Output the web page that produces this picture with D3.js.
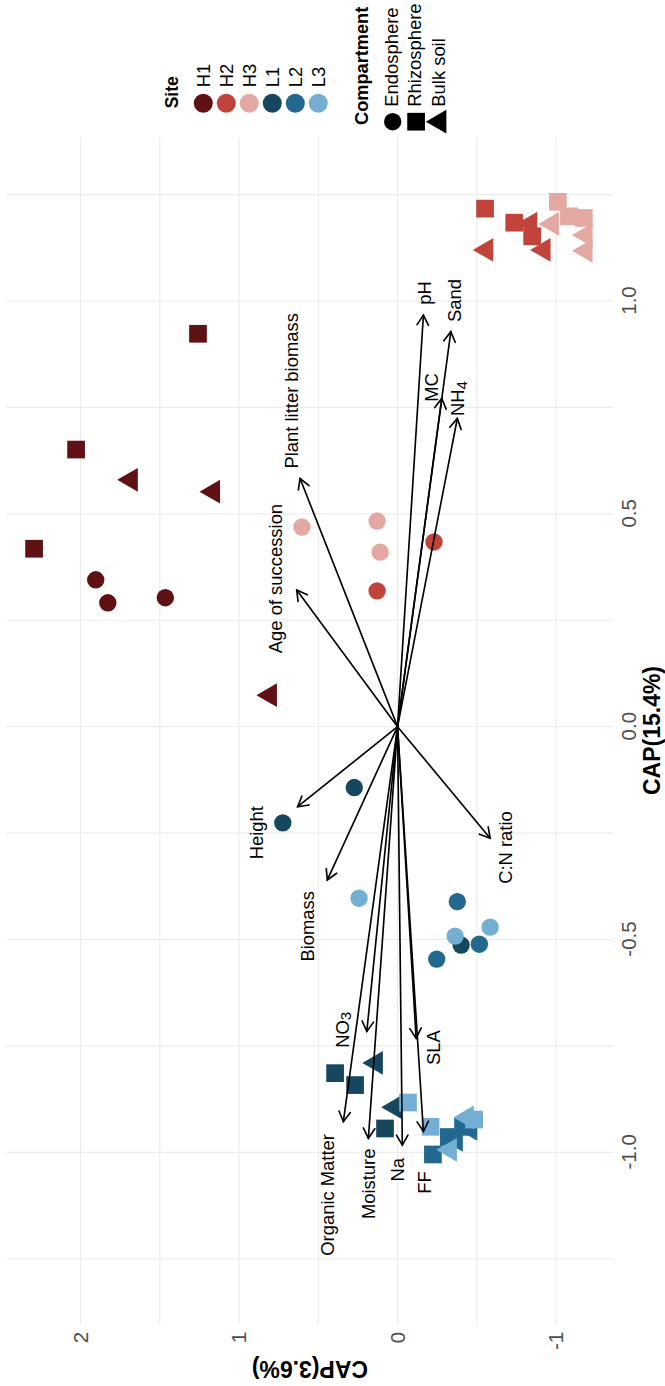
<!DOCTYPE html>
<html>
<head>
<meta charset="utf-8">
<script src="https://cdn.jsdelivr.net/npm/d3@7"></script>
<style>
  body { margin: 0; background: #fff; }
  text { font-family: "Liberation Sans", Arial, Helvetica, sans-serif; }
</style>
</head>
<body>
<svg id="chart" width="665" height="1386"></svg>
<script>
// ---- data -------------------------------------------------------------
const sites = ["H1", "H2", "H3", "L1", "L2", "L3"];
const siteColors = ["#5f1114", "#c0443a", "#e3a8a2", "#16475f", "#22688f", "#74afd3"];
const compartments = ["Endosphere", "Rhizosphere", "Bulk soil"];

// sample scores on the two constrained axes
const sampleSite = [
  "H1","H1","H1","H1","H1","H1","H1","H1","H1",
  "H2","H2","H2","H2","H2","H2","H2","H2",
  "H3","H3","H3","H3","H3","H3","H3","H3","H3",
  "L1","L1","L1","L1","L1","L1","L1","L1",
  "L2","L2","L2","L2","L2","L2","L2","L2",
  "L3","L3","L3","L3","L3","L3","L3","L3"
];
const sampleCompartment = [
  "Endosphere","Endosphere","Endosphere","Rhizosphere","Rhizosphere","Rhizosphere","Bulk soil","Bulk soil","Bulk soil",
  "Endosphere","Endosphere","Rhizosphere","Rhizosphere","Rhizosphere","Bulk soil","Bulk soil","Bulk soil",
  "Endosphere","Endosphere","Endosphere","Rhizosphere","Rhizosphere","Rhizosphere","Bulk soil","Bulk soil","Bulk soil",
  "Endosphere","Endosphere","Endosphere","Rhizosphere","Rhizosphere","Rhizosphere","Bulk soil","Bulk soil",
  "Endosphere","Endosphere","Endosphere","Rhizosphere","Rhizosphere","Rhizosphere","Bulk soil","Bulk soil",
  "Endosphere","Endosphere","Endosphere","Rhizosphere","Rhizosphere","Rhizosphere","Bulk soil","Bulk soil"
];
const sampleCAP1 = [
  0.345, 0.291, 0.303, 0.923, 0.651, 0.418, 0.580, 0.552, 0.074,
  0.434, 0.319, 1.217, 1.184, 1.152, 1.182, 1.120, 1.120,
  0.469, 0.483, 0.410, 1.233, 1.199, 1.195, 1.181, 1.155, 1.118,
  -0.143, -0.226, -0.513, -0.814, -0.842, -0.944, -0.790, -0.894,
  -0.411, -0.511, -0.546, -1.005, -0.964, -0.940, -0.945, -0.971,
  -0.403, -0.492, -0.471, -0.883, -0.940, -0.923, -0.918, -0.994
];
const sampleCAP2 = [
  1.904, 1.828, 1.465, 1.259, 2.028, 2.293, 1.682, 1.163, 0.804,
  -0.230, 0.129, -0.552, -0.736, -0.849, -0.839, -0.561, -0.922,
  0.603, 0.129, 0.110, -1.011, -1.081, -1.175, -0.975, -1.187, -1.187,
  0.273, 0.724, -0.401, 0.394, 0.268, 0.079, 0.136, 0.017,
  -0.377, -0.516, -0.247, -0.223, -0.323, -0.413, -0.460, -0.369,
  0.243, -0.363, -0.584, -0.066, -0.208, -0.483, -0.438, -0.331
];

// environmental vectors (arrow tips) and their label anchors
const envNames = ["pH", "Sand", "MC", "NH4", "Plant litter biomass", "Age of succession",
  "Height", "Biomass", "C:N ratio", "NO3", "SLA", "Organic Matter", "Moisture", "Na", "FF"];
const envCAP1 = [0.967, 0.928, 0.771, 0.724, 0.583, 0.321, -0.188, -0.360, -0.262,
  -0.716, -0.732, -0.928, -0.967, -0.983, -0.951];
const envCAP2 = [-0.163, -0.336, -0.279, -0.377, 0.615, 0.636, 0.630, 0.443, -0.584,
  0.194, -0.117, 0.342, 0.184, -0.030, -0.163];
const labelCAP1 = [1.019, 1.001, 0.797, 0.771, 0.789, 0.348, -0.249, -0.469, -0.284,
  -0.712, -0.754, -1.100, -1.074, -1.041, -1.071];
const labelCAP2 = [-0.167, -0.356, -0.211, -0.379, 0.672, 0.770, 0.891, 0.566, -0.681,
  0.347, -0.224, 0.442, 0.186, 0.003, -0.170];

// axis ticks
const xTicks = [-1, -0.5, 0, 0.5, 1];
const xTickLabels = ["-1.0", "-0.5", "0.0", "0.5", "1.0"];
const xMinor = [-1.25, -0.75, -0.25, 0.25, 0.75, 1.25];
const yTicks = [-1, 0, 1, 2];
const yTickLabels = ["-1", "0", "1", "2"];
const yMinor = [-0.5, 0.5, 1.5];

// ---- layout (drawn landscape, then turned a quarter turn) -------------
const W = 1386, H = 665;
const panel = { left: 61.7, right: 1249.3, top: 6.5, bottom: 613.3 };

const x = d3.scaleLinear().domain([-1.404, 1.386]).range([panel.left, panel.right]);
const y = d3.scaleLinear().domain([-1.361, 2.467]).range([panel.bottom, panel.top]);
const color = d3.scaleOrdinal().domain(sites).range(siteColors);

const svg = d3.select("#chart");
const g = svg.append("g").attr("transform", `translate(0,${W}) rotate(-90)`);

// grid
const gridColor = "#ebebeb";
const grid = g.append("g");
grid.selectAll("line.vx").data(xMinor.concat(xTicks)).join("line")
  .attr("x1", d => x(d)).attr("x2", d => x(d))
  .attr("y1", panel.top).attr("y2", panel.bottom)
  .attr("stroke", gridColor).attr("stroke-width", 1.1);
grid.selectAll("line.hy").data(yMinor.concat(yTicks)).join("line")
  .attr("x1", panel.left).attr("x2", panel.right)
  .attr("y1", d => y(d)).attr("y2", d => y(d))
  .attr("stroke", gridColor).attr("stroke-width", 1.1);

// axes
const xAxis = d3.axisBottom(x).tickValues(xTicks).tickFormat((d, i) => xTickLabels[i]).tickSize(0).tickPadding(8);
const gx = g.append("g").attr("transform", `translate(0,${panel.bottom})`).call(xAxis);
const yAxis = d3.axisLeft(y).tickValues(yTicks).tickFormat((d, i) => yTickLabels[i]).tickSize(0).tickPadding(7.5);
const gy = g.append("g").attr("transform", `translate(${panel.left},0)`).call(yAxis);
[gx, gy].forEach(a => {
  a.select(".domain").remove();
  a.selectAll("text").attr("fill", "#4d4d4d").style("font-size", "20.5px")
    .style("font-family", "'Liberation Sans', Arial, sans-serif");
});

g.append("text")
  .attr("x", (panel.left + panel.right) / 2).attr("y", 659.5)
  .attr("text-anchor", "middle").style("font-weight", "bold").style("font-size", "23px")
  .text("CAP(15.4%)");
g.append("text")
  .attr("transform", `translate(25.5,${(panel.top + panel.bottom) / 2}) rotate(-90)`)
  .attr("text-anchor", "middle").style("font-weight", "bold").style("font-size", "23px")
  .text("CAP(3.6%)");

// marks
const R_CIRCLE = 8.7, SQ = 17.7, R_TRI = 13.7;
function shapePath(comp) {
  if (comp === "Endosphere") {
    const p = d3.path();
    p.arc(0, 0, R_CIRCLE, 0, 2 * Math.PI);
    return p.toString();
  }
  if (comp === "Rhizosphere") {
    const h = SQ / 2;
    return `M${-h},${-h}H${h}V${h}H${-h}Z`;
  }
  const hw = R_TRI * Math.sqrt(3) / 2;
  return `M0,${-R_TRI}L${hw},${R_TRI / 2}L${-hw},${R_TRI / 2}Z`;
}

const samples = sampleSite.map((s, i) => ({
  site: s, comp: sampleCompartment[i], c1: sampleCAP1[i], c2: sampleCAP2[i]
}));
g.append("g").selectAll("path").data(samples).join("path")
  .attr("transform", d => `translate(${x(d.c1)},${y(d.c2)})`)
  .attr("d", d => shapePath(d.comp))
  .attr("fill", d => color(d.site));

// biplot arrows
const arrows = g.append("g").attr("stroke", "#000").attr("stroke-width", 1.65)
  .attr("fill", "none").attr("stroke-linecap", "round");
const x0 = x(0), y0 = y(0), head = 11.5, spread = Math.PI / 6;
envNames.forEach((name, i) => {
  const tx = x(envCAP1[i]), ty = y(envCAP2[i]);
  const ang = Math.atan2(ty - y0, tx - x0);
  arrows.append("line").attr("x1", x0).attr("y1", y0).attr("x2", tx).attr("y2", ty);
  const a1 = ang + Math.PI - spread, a2 = ang + Math.PI + spread;
  arrows.append("path").attr("stroke-linejoin", "miter")
    .attr("d", `M${tx + head * Math.cos(a1)},${ty + head * Math.sin(a1)}L${tx},${ty}L${tx + head * Math.cos(a2)},${ty + head * Math.sin(a2)}`);
});

// arrow labels; trailing digit of the ion names set as a subscript
const labels = g.append("g");
envNames.forEach((name, i) => {
  const t = labels.append("text")
    .attr("x", x(labelCAP1[i])).attr("y", y(labelCAP2[i]))
    .attr("dy", "0.36em").attr("text-anchor", "middle")
    .style("font-size", "18.4px").attr("fill", "#000");
  const m = name.match(/^(NH|NO)(\d)$/);
  if (m) {
    t.append("tspan").text(m[1]);
    t.append("tspan").attr("dy", "0.15em").style("font-size", "15px").text(m[2]);
  } else {
    t.text(name);
  }
});

// legends
const lg = g.append("g");
lg.append("text").attr("x", 1277.7).attr("y", 177.5)
  .style("font-weight", "bold").style("font-size", "17.5px").text("Site");
sites.forEach((s, i) => {
  const cy = 203.3 + i * 23;
  lg.append("circle").attr("cx", 1282.7).attr("cy", cy).attr("r", 9.5).attr("fill", siteColors[i]);
  lg.append("text").attr("x", 1298.7).attr("y", cy).attr("dy", "0.36em")
    .style("font-size", "18.4px").text(s);
});
lg.append("text").attr("x", 1261).attr("y", 368)
  .style("font-weight", "bold").style("font-size", "18.2px").text("Compartment");
compartments.forEach((c, i) => {
  const cy = 392.7 + i * 23.4;
  lg.append("path").attr("transform", `translate(1264.3,${cy})`)
    .attr("d", shapePath(c)).attr("fill", "#000");
  lg.append("text").attr("x", 1279.3).attr("y", cy - 1.5).attr("dy", "0.36em")
    .style("font-size", "18.4px").text(c);
});
</script>
</body>
</html>
